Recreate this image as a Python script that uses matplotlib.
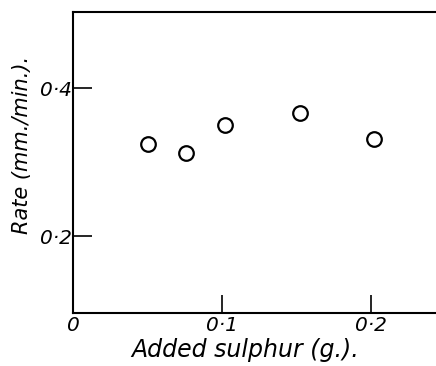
import matplotlib
matplotlib.use("Agg")
import matplotlib.pyplot as plt

# data
sulphur = [0.050, 0.076, 0.102, 0.152, 0.202]
rate = [0.324, 0.313, 0.350, 0.367, 0.331]

x_ticks = [0.0, 0.1, 0.2]
x_tick_labels = ["0", "0·1", "0·2"]
y_ticks = [0.2, 0.4]
y_tick_labels = ["0·2", "0·4"]

plt.rcParams["font.family"] = ["DejaVu Sans"]
plt.rcParams["font.style"] = "italic"

fig = plt.figure(figsize=(4.36, 3.66), dpi=100)
ax = fig.add_axes([73 / 436, 53 / 366, 1.0 - 73 / 436, 301 / 366])

ax.plot(sulphur, rate, linestyle="none", marker="o", markersize=10.5,
        markerfacecolor="white", markeredgecolor="black", markeredgewidth=1.6)

ax.set_xlim(0, 0.2436)
ax.set_ylim(0.096, 0.503)

ax.set_xticks(x_ticks)
ax.set_xticklabels(x_tick_labels, fontsize=14.5, style="italic")
ax.set_yticks(y_ticks)
ax.set_yticklabels(y_tick_labels, fontsize=14.5, style="italic")
ax.tick_params(axis="x", direction="in", length=13, width=1.2, pad=2)
ax.tick_params(axis="y", direction="in", length=14, width=1.2, pad=0.5)

ax.spines["right"].set_visible(False)
for s in ["left", "bottom", "top"]:
    ax.spines[s].set_linewidth(1.5)

fig.text(22 / 436, 1 - 145 / 366, "Rate (mm./min.).", rotation=90,
         ha="center", va="center", fontsize=15, style="italic")
fig.text(245 / 436, 1 - 350 / 366, "Added sulphur (g.).",
         ha="center", va="center", fontsize=17, style="italic")

fig.savefig("out.png", dpi=100)
